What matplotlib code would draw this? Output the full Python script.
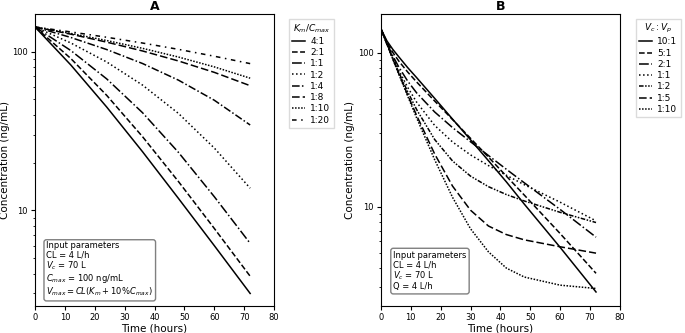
import matplotlib
matplotlib.use("Agg")
import matplotlib.pyplot as plt

# ---- panel A: Michaelis-Menten elimination, Km/Cmax ratios ----
time_a = [0, 12, 24, 36, 48, 60, 72]
km_labels = ["4:1", "2:1", "1:1", "1:2", "1:4", "1:8", "1:10", "1:20"]
conc_a_4_1 = [142.9, 82.3, 44.75, 23.4, 11.9, 6.0, 3.0]
conc_a_2_1 = [142.9, 90.4, 53.0, 29.1, 15.2, 7.7, 3.85]
conc_a_1_1 = [142.9, 101.5, 67.3, 41.2, 23.2, 12.2, 6.2]
conc_a_1_2 = [142.9, 113.3, 86.0, 61.5, 40.8, 24.7, 13.8]
conc_a_1_4 = [142.9, 122.7, 103.0, 84.1, 66.1, 49.4, 34.5]
conc_a_1_8 = [142.9, 128.7, 114.7, 100.9, 87.3, 74.0, 61.0]
conc_a_1_10 = [142.9, 130.1, 117.4, 104.8, 92.4, 80.1, 68.0]
conc_a_1_20 = [142.9, 133.0, 123.1, 113.2, 103.3, 93.5, 84.0]

# ---- panel B: two-compartment, Vc:Vp ratios ----
time_b = [0, 2, 4, 6, 9, 12, 18, 24, 30, 36, 42, 48, 60, 72]
vp_labels = ["10:1", "5:1", "2:1", "1:1", "1:2", "1:5", "1:10"]
conc_b_10_1 = [142.9, 119.3, 104.9, 93.9, 79.8, 68.7, 50.5, 37.0, 27.2, 19.9, 14.5, 10.4, 5.45, 2.8]
conc_b_5_1 = [142.9, 117.0, 100.2, 88.1, 74.7, 64.4, 48.5, 36.75, 27.8, 21.0, 15.8, 11.9, 6.7, 3.7]
conc_b_2_1 = [142.9, 115.2, 95.2, 80.6, 65.2, 54.7, 41.2, 32.6, 26.4, 21.5, 17.5, 14.3, 9.6, 6.35]
conc_b_1_1 = [142.9, 114.5, 93.0, 76.8, 59.4, 47.6, 33.7, 26.3, 21.7, 18.5, 16.0, 13.9, 10.7, 8.1]
conc_b_1_2 = [142.9, 114.1, 91.8, 74.5, 55.6, 42.6, 27.3, 19.8, 15.8, 13.5, 12.0, 10.9, 9.2, 7.9]
conc_b_1_5 = [142.9, 113.8, 91.0, 73.0, 53.0, 39.0, 22.0, 13.6, 9.5, 7.5, 6.6, 6.1, 5.5, 5.0]
conc_b_1_10 = [142.9, 113.8, 90.7, 72.5, 52.1, 37.6, 20.2, 11.5, 7.2, 5.1, 4.0, 3.5, 3.1, 2.95]

series_a = [conc_a_4_1, conc_a_2_1, conc_a_1_1, conc_a_1_2,
            conc_a_1_4, conc_a_1_8, conc_a_1_10, conc_a_1_20]
styles_a = ["-", "--", "-.", ":", (0, (5, 1.5, 1, 1.5)), (0, (5, 2)),
            (0, (1, 1)), (0, (3, 3, 1, 3))]

series_b = [conc_b_10_1, conc_b_5_1, conc_b_2_1, conc_b_1_1,
            conc_b_1_2, conc_b_1_5, conc_b_1_10]
styles_b = ["-", "--", "-.", ":", (0, (3, 1, 1, 1, 1, 1)), (0, (5, 2)),
            (0, (1, 1))]

plt.rcParams["font.family"] = "DejaVu Sans"
plt.rcParams["font.size"] = 6.5

fig = plt.figure(figsize=(6.85, 3.33), dpi=100)
ax_a = fig.add_axes([0.0511, 0.081, 0.349, 0.877])
ax_b = fig.add_axes([0.556, 0.081, 0.349, 0.877])

for conc, ls, lab in zip(series_a, styles_a, km_labels):
    ax_a.plot(time_a, conc, color="black", linestyle=ls, linewidth=1.1, label=lab)
for conc, ls, lab in zip(series_b, styles_b, vp_labels):
    ax_b.plot(time_b, conc, color="black", linestyle=ls, linewidth=1.1, label=lab)

for ax, title, ylim in [(ax_a, "A", (2.5, 172.5)), (ax_b, "B", (2.27, 178))]:
    ax.set_yscale("log")
    ax.set_xlim(0, 80)
    ax.set_ylim(*ylim)
    ax.set_xticks(range(0, 81, 10))
    ax.set_xlabel("Time (hours)", fontsize=7.5, labelpad=1)
    ax.set_ylabel("Concentration (ng/mL)", fontsize=7.5, labelpad=2)
    ax.set_title(title, fontweight="bold", fontsize=9, pad=3)
    ax.tick_params(labelsize=6, length=3, pad=2)
    ax.tick_params(which="minor", length=1.8)
    ax.set_yticks([10, 100])
    ax.set_yticklabels(["10", "100"])

leg_kw = dict(loc="upper left", fontsize=6.5, title_fontsize=6.5,
              handlelength=1.4, handletextpad=0.6, labelspacing=0.25,
              borderpad=0.35, borderaxespad=0, fancybox=False,
              edgecolor="lightgray")
ax_a.legend(title="$K_m/C_{max}$", bbox_to_anchor=(1.063, 0.983), **leg_kw)
ax_b.legend(title="$V_c:V_p$", bbox_to_anchor=(1.068, 0.983), **leg_kw)

box = dict(boxstyle="round,pad=0.3", facecolor="white", edgecolor="gray")
ax_a.text(0.048, 0.026,
          "Input parameters\nCL = 4 L/h\n$V_c$ = 70 L\n$C_{max}$ = 100 ng/mL\n"
          "$V_{max} = CL(K_m + 10\\%C_{max})$",
          transform=ax_a.transAxes, fontsize=6, va="bottom", ha="left",
          linespacing=1.05, bbox=box)
ax_b.text(0.052, 0.05,
          "Input parameters\nCL = 4 L/h\n$V_c$ = 70 L\nQ = 4 L/h",
          transform=ax_b.transAxes, fontsize=6, va="bottom", ha="left",
          linespacing=1.05, bbox=box)

fig.savefig("out.png", dpi=100)
